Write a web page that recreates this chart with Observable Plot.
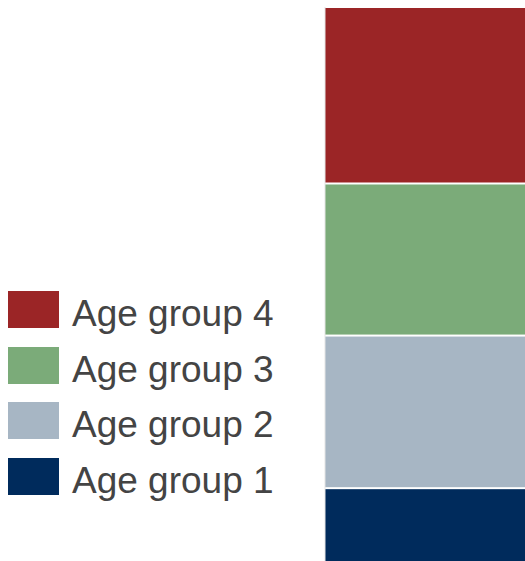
<!DOCTYPE html>
<html>
<head>
<meta charset="utf-8">
<script src="https://cdn.jsdelivr.net/npm/d3@7"></script>
<script src="https://cdn.jsdelivr.net/npm/@observablehq/plot@0.6"></script>
<style>
  html, body { margin: 0; padding: 0; background: #fff; }
  #wrap { position: relative; width: 525px; height: 561px; }
  #legend { position: absolute; left: 8px; top: 291px; font-family: "Liberation Sans", Arial, sans-serif; }
  .row { display: flex; align-items: center; height: 37px; margin-bottom: 18.5px; }
  .sw { width: 51px; height: 37px; margin-right: 13px; }
  .lab { font-size: 37px; color: #444; line-height: 37px; white-space: nowrap; position: relative; top: 4px; }
</style>
</head>
<body>
<div id="wrap"></div>
<script>
// Share of each age group (percent), bottom to top
const groups = ["Age group 1", "Age group 2", "Age group 3", "Age group 4"];
const shares = [13.3, 27.5, 27.4, 31.8];
const colors = ["#002B5C", "#A7B6C4", "#7BAB79", "#9B2526"];

const data = groups.map((g, i) => ({group: g, share: shares[i]}));

const chart = Plot.plot({
  width: 525,
  height: 561,
  marginLeft: 325,
  marginRight: 0,
  marginTop: 0,
  marginBottom: 0,
  x: {domain: [0, 1], axis: null},
  y: {domain: [0, 100], range: [562, 7], axis: null},
  color: {domain: groups, range: colors},
  marks: [
    Plot.rectY(data, Plot.stackY({
      x1: 0, x2: 1, y: "share", fill: "group", order: groups,
      insetTop: 1, insetBottom: 1
    })),
    Plot.ruleX([0], {y1: 0, y2: 100, stroke: "#e4e4e4", dx: -0.5})
  ]
});

const wrap = document.getElementById("wrap");
wrap.appendChild(chart);

// Legend, top row is the top of the stack
const legend = document.createElement("div");
legend.id = "legend";
for (let i = groups.length - 1; i >= 0; i--) {
  const row = document.createElement("div");
  row.className = "row";
  const sw = document.createElement("div");
  sw.className = "sw";
  sw.style.background = colors[i];
  const lab = document.createElement("span");
  lab.className = "lab";
  lab.textContent = groups[i];
  row.appendChild(sw);
  row.appendChild(lab);
  legend.appendChild(row);
}
wrap.appendChild(legend);
</script>
</body>
</html>
